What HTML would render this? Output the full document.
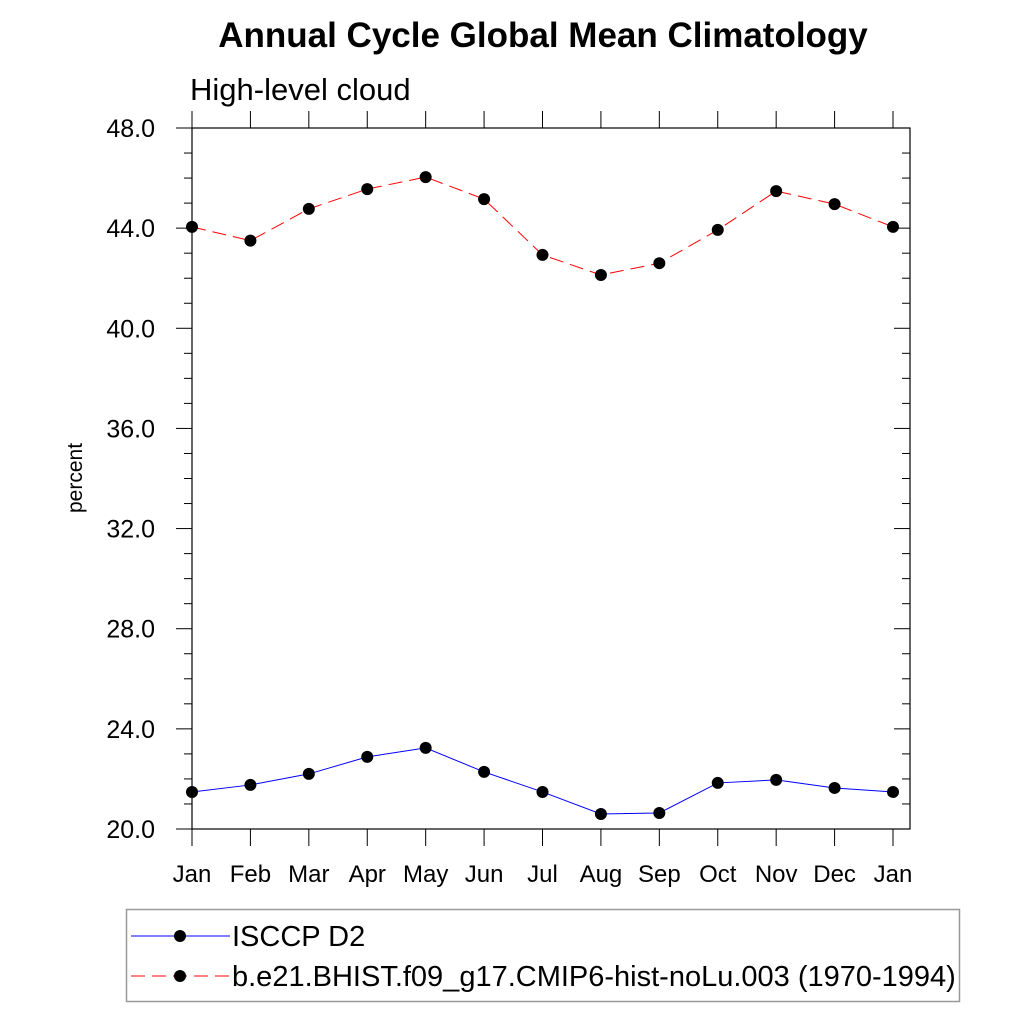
<!DOCTYPE html>
<html><head><meta charset="utf-8"><style>
body{margin:0;background:#fff}
text{font-family:"Liberation Sans",sans-serif}
</style></head><body>
<svg id="c" width="1024" height="1024" xmlns="http://www.w3.org/2000/svg">
<text x="543" y="47" font-size="35" font-weight="bold" text-anchor="middle">Annual Cycle Global Mean Climatology</text>
<text x="190" y="100" font-size="31">High-level cloud</text>
<text transform="translate(82,478) rotate(-90)" font-size="21" text-anchor="middle">percent</text>
<g id="axes"></g><g id="series"></g>
<rect x="126.5" y="909.5" width="833" height="92" fill="none" stroke="#999" stroke-width="1.5"/>
<g>
<line x1="131" y1="936" x2="230" y2="936" stroke="#0000ff" stroke-width="1"/>
<circle cx="180" cy="936" r="6" fill="#000"/>
<text x="232" y="946" font-size="29">ISCCP D2</text></g>
<g>
<line x1="131" y1="976" x2="230" y2="976" stroke="#ff0000" stroke-width="1" stroke-dasharray="14,7"/>
<circle cx="180" cy="976" r="6" fill="#000"/>
<text x="232" y="986" font-size="29">b.e21.BHIST.f09_g17.CMIP6-hist-noLu.003 (1970-1994)</text></g>
</svg>
<script>
const months=["Jan","Feb","Mar","Apr","May","Jun","Jul","Aug","Sep","Oct","Nov","Dec","Jan"];
const isccp=[21.48,21.76,22.2,22.88,23.24,22.28,21.48,20.6,20.64,21.84,21.96,21.64,21.48];
const model=[44.05,43.5,44.77,45.56,46.04,45.16,42.93,42.13,42.6,43.93,45.48,44.96,44.05];
const yTicks=[20,24,28,32,36,40,44,48];
const NS="http://www.w3.org/2000/svg";
const L=192,R=910,T=128,B=829,ymin=20,ymax=48,X0=192,X12=893;
const xs=i=>X0+(X12-X0)*i/12;
const ys=v=>B-(B-T)*(v-ymin)/(ymax-ymin);
function mk(t,a,p){const e=document.createElementNS(NS,t);for(const k in a)e.setAttribute(k,a[k]);p.appendChild(e);return e;}
const ax=document.getElementById('axes');
const frame=mk('rect',{x:L,y:T,width:R-L,height:B-T,fill:'none',stroke:'#000','stroke-width':1.2},ax);


for(let v=ymin;v<=ymax+0.001;v+=1){
 const y=ys(v),maj=(v%4===0);
 mk('line',{x1:L-(maj?16:8),y1:y,x2:L,y2:y,stroke:'#000','stroke-width':1},ax);
 mk('line',{x1:R,y1:y,x2:R-(maj?16:8),y2:y,stroke:'#000','stroke-width':1},ax);
}
yTicks.forEach(v=>{
 const t=mk('text',{x:L-37,y:ys(v)+9,'font-size':25,'text-anchor':'end'},ax);
 t.textContent=v.toFixed(1);
 
 
});
months.forEach((m,i)=>{
 const x=xs(i);
 mk('line',{x1:x,y1:B,x2:x,y2:B+17,stroke:'#000','stroke-width':1},ax);
 mk('line',{x1:x,y1:T,x2:x,y2:T-17,stroke:'#000','stroke-width':1},ax);
 const t=mk('text',{x:x,y:882,'font-size':24,'text-anchor':'middle'},ax);
 t.textContent=m;
 
 
});
const sg=document.getElementById('series');
function draw(vals,color,dash,name){
 const g=mk('g',{},sg);
 
 
 const a={points:vals.map((v,i)=>xs(i)+','+ys(v)).join(' '),fill:'none',stroke:color,'stroke-width':1};
 if(dash)a['stroke-dasharray']=dash;
 mk('polyline',a,g);
 vals.forEach((v,i)=>{
  const c=mk('circle',{cx:xs(i),cy:ys(v),r:6,fill:'#000'},g);
  
  
 });
}
draw(isccp,'#0000ff',null,'series-isccp');
draw(model,'#ff0000','14,7','series-model');
</script>
</body></html>
